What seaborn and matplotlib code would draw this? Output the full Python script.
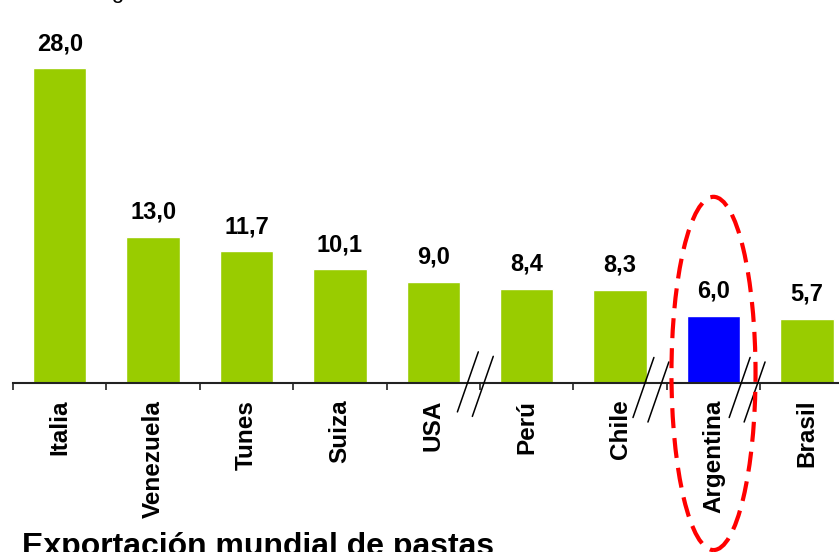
import pandas as pd
import matplotlib.pyplot as plt
import seaborn as sns
from matplotlib.patches import Ellipse
from matplotlib.ticker import FixedLocator

# Data
paises = ['Italia', 'Venezuela', 'Tunes', 'Suiza', 'USA', 'Perú', 'Chile', 'Argentina', 'Brasil']
valores = [28.0, 13.0, 11.7, 10.1, 9.0, 8.4, 8.3, 6.0, 5.7]
etiquetas = ['28,0', '13,0', '11,7', '10,1', '9,0', '8,4', '8,3', '6,0', '5,7']
colores = ['#99CC00'] * 7 + ['#0000FF', '#99CC00']

# where the axis is broken (between categories) and which one is circled
cortes = [(4.45, -0.1), (6.33, -0.6), (7.36, -0.6)]
destacado = 'Argentina'

sns.set_style('white')
plt.rcParams['font.family'] = ['Liberation Sans', 'DejaVu Sans']
plt.rcParams['text.color'] = 'black'
plt.rcParams['xtick.color'] = 'black'
plt.rcParams['xtick.labelcolor'] = 'black'

df = pd.DataFrame({'pais': paises, 'valor': valores})

fig = plt.figure(figsize=(8.39, 5.52), dpi=100)
ax = fig.add_axes([13 / 839, 169 / 552, 840.6 / 839, 337.5 / 552])

sns.barplot(data=df, x='pais', y='valor', hue='pais', palette=colores,
            width=0.57, legend=False, saturation=1, ax=ax)

ax.set_xlim(-0.5, len(paises) - 0.5)
ax.set_ylim(0, 30)

# value labels above bars
for i, (v, txt) in enumerate(zip(valores, etiquetas)):
    ax.annotate(txt, (i, v), xytext=(0, 18), textcoords='offset pixels',
                ha='center', va='baseline', fontsize=17, fontweight='bold',
                color='black')

# axes styling
for s in ['top', 'right', 'left']:
    ax.spines[s].set_visible(False)
ax.spines['bottom'].set_linewidth(1.5)
ax.spines['bottom'].set_color('#222222')
ax.set_yticks([])
ax.set_xlabel('')
ax.set_ylabel('')
ax.set_xticks(range(len(paises)))
ax.set_xticklabels(paises, rotation=90, fontsize=17.5, fontweight='bold', color='black')
ax.tick_params(axis='x', which='major', bottom=True, length=0, pad=12)
ax.xaxis.set_minor_locator(FixedLocator([i - 0.5 for i in range(len(paises) + 1)]))
ax.tick_params(axis='x', which='minor', bottom=True, length=5, width=1.2,
               color='#222222', direction='out')

# axis break marks
for cx, cy in cortes:
    for dx, dy in [(-0.08, 0.2), (0.08, -0.2)]:
        x0, y0 = cx + dx, cy + dy
        ax.plot([x0 - 0.112, x0 + 0.112], [y0 - 2.67, y0 + 2.67],
                color='black', lw=1.1, clip_on=False, zorder=5)

# red dashed ellipse around Argentina
k = paises.index(destacado)
ell = Ellipse((k, 0.85), width=0.9, height=31.4, fill=False, edgecolor='#FF0000',
              lw=3, linestyle=(0, (4.8, 2.4)), clip_on=False, zorder=6)
ax.add_patch(ell)

# partially visible texts at top and bottom (cut off in the original slide)
fig.text(124 / 839, 1.004, 'Millones de kg', fontsize=16, ha='right', va='baseline')
fig.text(22 / 839, -3 / 552, 'Exportación mundial de pastas', fontsize=23,
         fontweight='bold', ha='left', va='baseline')

fig.savefig('out.png', dpi=100)
